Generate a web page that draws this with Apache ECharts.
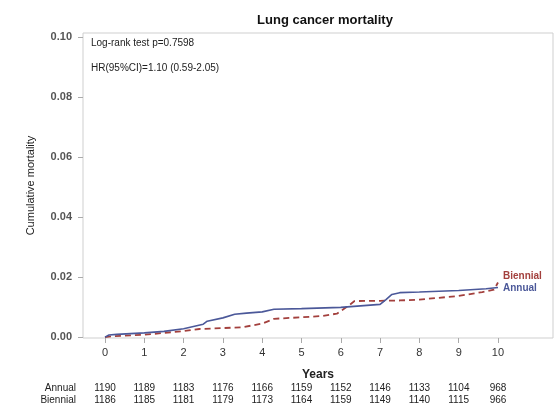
<!DOCTYPE html>
<html>
<head>
<meta charset="utf-8">
<script src="https://cdn.jsdelivr.net/npm/echarts@6/dist/echarts.min.js"></script>
<style>
  body { margin: 0; background: #fff; }
  #chart { width: 560px; height: 405px; }
</style>
</head>
<body>
<div id="chart"></div>
<script>
// cumulative mortality curves
let annualYears = [0, 0.1, 0.3, 1.0, 1.5, 2.0, 2.5, 2.6, 3.0, 3.3, 3.6, 4.0, 4.3, 5.0, 6.0, 7.0, 7.15, 7.3, 7.5, 8.0, 9.0, 9.7, 10.0];
let annualValues = [0, 0.0007, 0.0009, 0.0014, 0.0019, 0.0028, 0.0043, 0.0053, 0.0064, 0.0076, 0.0080, 0.0084, 0.0093, 0.0095, 0.0099, 0.0109, 0.0125, 0.0142, 0.0148, 0.0150, 0.0155, 0.0161, 0.0165];

let biennialYears = [0, 0.2, 1.0, 2.0, 2.4, 3.0, 3.5, 4.0, 4.3, 5.0, 5.5, 5.9, 6.2, 6.35, 7.0, 7.5, 8.0, 9.0, 9.6, 9.9, 10.0];
let biennialValues = [0, 0.0003, 0.0008, 0.0020, 0.0027, 0.0030, 0.0033, 0.0045, 0.0061, 0.0066, 0.0070, 0.0078, 0.0105, 0.0120, 0.0121, 0.0122, 0.0125, 0.0137, 0.0150, 0.0158, 0.0182];

// number at risk table
let riskYears = [0, 1, 2, 3, 4, 5, 6, 7, 8, 9, 10];
let annualAtRisk = [1190, 1189, 1183, 1176, 1166, 1159, 1152, 1146, 1133, 1104, 968];
let biennialAtRisk = [1186, 1185, 1181, 1179, 1173, 1164, 1159, 1149, 1140, 1115, 966];

let yTicks = [0, 0.02, 0.04, 0.06, 0.08, 0.10];

let blue = '#4b5899';
let red = '#a3403d';
let font = 'Liberation Sans';

function zip(xs, ys)
{
    let out = [];
    xs.forEach((x, i) => { out.push([x, ys[i]]); });
    return out;
}

function riskAxis(name, counts, offset)
{
    return {
        type: 'value',
        gridIndex: 0,
        position: 'bottom',
        offset: offset,
        min: -0.56,
        max: 11.4,
        name: name,
        nameLocation: 'start',
        nameGap: 7,
        nameTextStyle: { fontFamily: font, fontSize: 10, color: '#222', verticalAlign: 'middle', align: 'right' },
        axisLine: { show: false, onZero: false },
        axisTick: { show: false },
        splitLine: { show: false },
        axisLabel: {
            customValues: riskYears,
            margin: 0,
            verticalAlign: 'middle',
            fontFamily: font,
            fontSize: 10,
            color: '#222',
            formatter: v => {
                let i = riskYears.indexOf(Math.round(v));
                return i >= 0 ? String(counts[i]) : '';
            }
        }
    };
}

let myChart = echarts.init(document.getElementById('chart'), null, { renderer: 'canvas' });

let option = {
    animation: false,
    title: {
        text: 'Lung cancer mortality',
        left: 320,
        top: 9,
        textAlign: 'center',
        textStyle: { fontFamily: font, fontSize: 13, fontWeight: 'bold', color: '#111' }
    },
    grid: {
        left: 83,
        right: 7,
        top: 33,
        bottom: 67,
        show: true,
        borderColor: '#cfcfcf',
        borderWidth: 1
    },
    xAxis: [
        {
            type: 'value',
            min: -0.56,
            max: 11.4,
            name: 'Years',
            nameLocation: 'middle',
            nameGap: 31,
            nameTextStyle: { fontFamily: font, fontSize: 12, fontWeight: 'bold', color: '#222' },
            axisLine: { show: false, onZero: false },
            axisTick: { show: true, customValues: riskYears, length: 5, lineStyle: { color: '#aaa' } },
            splitLine: { show: false },
            axisLabel: { customValues: riskYears, margin: 9, fontFamily: font, fontSize: 11, color: '#333' }
        },
        riskAxis('Annual', annualAtRisk, 50),
        riskAxis('Biennial', biennialAtRisk, 62)
    ],
    yAxis: {
        type: 'value',
        min: -0.0003,
        max: 0.1013,
        name: 'Cumulative mortality',
        nameLocation: 'middle',
        nameGap: 47,
        nameTextStyle: { fontFamily: font, fontSize: 11, color: '#222' },
        axisLine: { show: false, onZero: false },
        axisTick: { show: true, customValues: yTicks, length: 5, lineStyle: { color: '#aaa' } },
        splitLine: { show: false },
        axisLabel: {
            customValues: yTicks,
            margin: 11,
            fontFamily: font,
            fontSize: 11,
            fontWeight: 'bold',
            color: '#555',
            formatter: v => v.toFixed(2)
        }
    },
    graphic: [
        {
            type: 'text',
            left: 91,
            top: 38,
            style: { text: 'Log-rank test p=0.7598', fontFamily: font, fontSize: 10, fill: '#222' }
        },
        {
            type: 'text',
            left: 91,
            top: 63,
            style: { text: 'HR(95%CI)=1.10 (0.59-2.05)', fontFamily: font, fontSize: 10, fill: '#222' }
        }
    ],
    series: [
        {
            name: 'Annual',
            type: 'line',
            data: zip(annualYears, annualValues),
            showSymbol: false,
            lineStyle: { color: blue, width: 1.6 },
            itemStyle: { color: blue },
            endLabel: {
                show: true,
                formatter: '{a}',
                offset: [0, 1],
                distance: 5,
                fontFamily: font,
                fontSize: 10,
                fontWeight: 'bold',
                color: blue
            },
            z: 3
        },
        {
            name: 'Biennial',
            type: 'line',
            data: zip(biennialYears, biennialValues),
            showSymbol: false,
            lineStyle: { color: red, width: 1.8, type: [6, 4] },
            itemStyle: { color: red },
            endLabel: {
                show: true,
                formatter: '{a}',
                offset: [0, -6],
                distance: 5,
                fontFamily: font,
                fontSize: 10,
                fontWeight: 'bold',
                color: red
            },
            z: 2
        }
    ]
};

myChart.setOption(option);
</script>
</body>
</html>
